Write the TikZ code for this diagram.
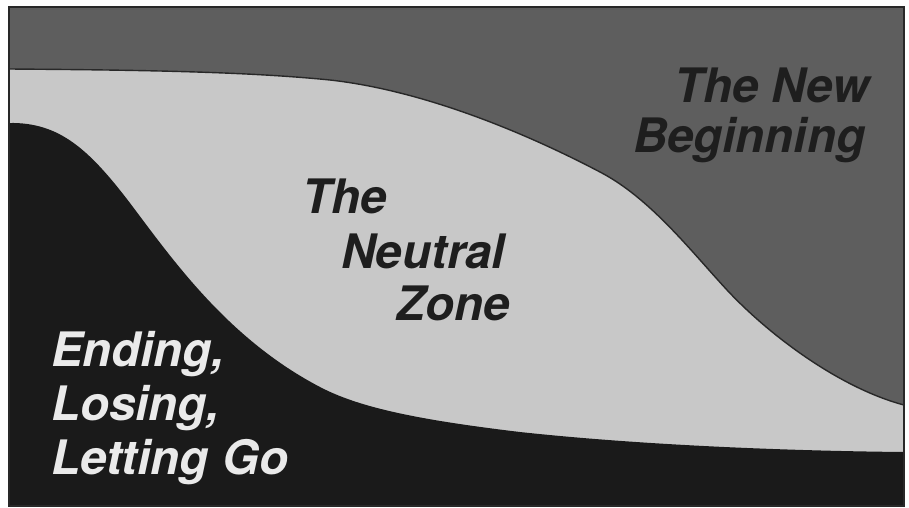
\documentclass[tikz,border=0pt]{standalone}
\usepackage{fontspec}
\setmainfont{TeX Gyre Heros}
\definecolor{darkzone}{RGB}{94,94,94}
\definecolor{lightzone}{RGB}{200,200,200}
\definecolor{blackzone}{RGB}{26,26,26}
\definecolor{darkink}{RGB}{30,30,30}
\definecolor{lightink}{RGB}{234,234,234}
\definecolor{edgeline}{RGB}{40,40,40}
\tikzset{
  lbl/.style={inner sep=0pt, outer sep=0pt, font=\fontsize{47.5}{50}\selectfont\bfseries\itshape},
  darklbl/.style={lbl, text=darkink},
  whitelbl/.style={lbl, text=lightink},
}
\begin{document}
\begin{tikzpicture}[x=1pt,y=-1pt]
\useasboundingbox (0,0) rectangle (909,507);
\fill[white] (0,0) rectangle (909,507);
% frame region (new beginning)
\fill[darkzone] (9,7) rectangle (904,506);
% neutral zone
\def\topcurve{(9,69) .. controls (150,70) and (250,72) .. (330,80)
  .. controls (420,90) and (520,130) .. (600,172)
  .. controls (650,198) and (690,250) .. (727,290)
  .. controls (770,336) and (840,388) .. (904,405)}
\fill[lightzone] \topcurve -- (904,506) -- (9,506) -- cycle;
\draw[edgeline, line width=1.4pt] \topcurve;
% ending zone
\fill[blackzone] (9,123) .. controls (60,122) and (90,150) .. (133,207)
  .. controls (175,263) and (230,340) .. (320,387)
  .. controls (360,408) and (420,420) .. (520,432)
  .. controls (650,446) and (800,451) .. (904,452)
  -- (904,506) -- (9,506) -- cycle;
% frame
\draw[edgeline, line width=1.2pt] (9,7) rectangle (904,506);
% labels
\node[darklbl, anchor=base west] (nb1) at (674,102) {The New};
\node[darklbl, anchor=base west] (nb2) at (633,152) {Beginning};
\node[darklbl, anchor=base west] (nz1) at (302,213) {The};
\node[darklbl, anchor=base west] (nz2) at (341,268) {Neutral};
\node[darklbl, anchor=base west] (nz3) at (396,320) {Zone};
\node[whitelbl, anchor=base west] (en1) at (51,366) {Ending,};
\node[whitelbl, anchor=base west] (en2) at (51,420) {Losing,};
\node[whitelbl, anchor=base west] (en3) at (51,474) {Letting Go};
\end{tikzpicture}
\end{document}
